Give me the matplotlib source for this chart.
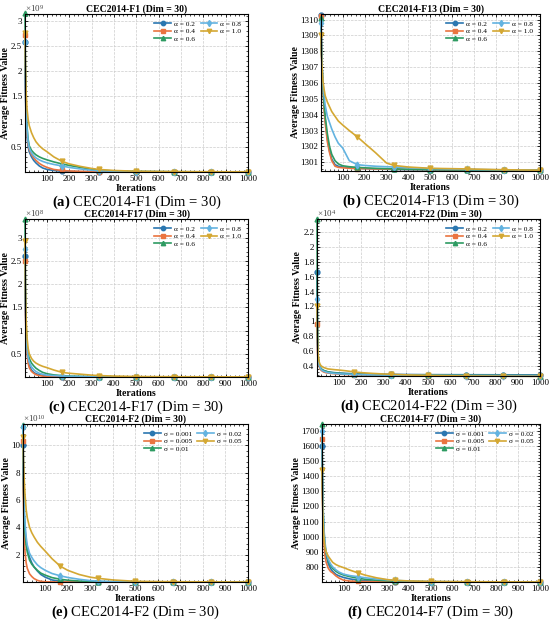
import matplotlib.pyplot as plt
from matplotlib.ticker import AutoMinorLocator

plt.rcParams['font.family'] = 'Liberation Serif'
plt.rcParams['mathtext.fontset'] = 'custom'
plt.rcParams['mathtext.rm'] = 'Liberation Serif'
plt.rcParams['mathtext.it'] = 'Liberation Serif:italic'
plt.rcParams['mathtext.bf'] = 'Liberation Serif:bold'

# iteration points
iters = [1, 3, 6, 10, 15, 20, 30, 40, 50, 65, 80, 100, 130, 167, 200, 250, 300, 334, 400, 500, 667, 834, 1000]
mark_idx = [0, 13, 17, 19, 20, 21, 22]

alpha_labels = ['α = 0.2', 'α = 0.4', 'α = 0.6', 'α = 0.8', 'α = 1.0']
sigma_labels = ['σ = 0.001', 'σ = 0.005', 'σ = 0.01', 'σ = 0.02', 'σ = 0.05']

colors = ['#2B77B0', '#EA7440', '#2E9B62', '#63B3E0', '#D4A833']
markers = ['o', 's', '^', 'd', 'v']

# (a) F1, x1e9
f1 = [
    [2.58, 1.6, 1.0, 0.7, 0.5, 0.4, 0.3, 0.23, 0.18, 0.12, 0.08, 0.05, 0.03, 0.015, 0.01, 0.006, 0.004, 0.003, 0.002, 0.001, 0.001, 0.001, 0.001],
    [2.72, 1.7, 1.1, 0.75, 0.55, 0.45, 0.35, 0.28, 0.23, 0.17, 0.13, 0.09, 0.05, 0.03, 0.02, 0.012, 0.008, 0.006, 0.004, 0.002, 0.001, 0.001, 0.001],
    [3.15, 2.0, 1.3, 0.9, 0.65, 0.52, 0.43, 0.38, 0.34, 0.30, 0.27, 0.24, 0.2, 0.16, 0.13, 0.09, 0.055, 0.035, 0.02, 0.01, 0.005, 0.003, 0.002],
    [2.58, 1.7, 1.15, 0.85, 0.6, 0.48, 0.38, 0.32, 0.28, 0.24, 0.21, 0.18, 0.15, 0.12, 0.09, 0.06, 0.035, 0.025, 0.015, 0.008, 0.004, 0.003, 0.002],
    [2.75, 2.1, 1.6, 1.25, 1.05, 0.92, 0.78, 0.68, 0.6, 0.52, 0.46, 0.4, 0.3, 0.21, 0.16, 0.11, 0.07, 0.05, 0.03, 0.015, 0.008, 0.005, 0.004],
]
# (b) F13
f13 = [
    [1310.3, 1308.5, 1307.0, 1305.8, 1304.6, 1303.7, 1302.5, 1301.7, 1301.2, 1300.85, 1300.75, 1300.7, 1300.65, 1300.62, 1300.6, 1300.58, 1300.56, 1300.55, 1300.53, 1300.52, 1300.5, 1300.5, 1300.49],
    [1310.2, 1308.2, 1306.8, 1305.5, 1304.3, 1303.5, 1302.3, 1301.6, 1301.1, 1300.75, 1300.68, 1300.65, 1300.62, 1300.6, 1300.6, 1300.58, 1300.57, 1300.56, 1300.55, 1300.54, 1300.53, 1300.52, 1300.52],
    [1310.1, 1308.4, 1307.0, 1305.8, 1304.7, 1303.9, 1302.8, 1302.0, 1301.5, 1301.1, 1300.9, 1300.78, 1300.72, 1300.68, 1300.65, 1300.62, 1300.6, 1300.58, 1300.56, 1300.54, 1300.52, 1300.5, 1300.5],
    [1309.8, 1308.2, 1307.0, 1306.0, 1305.2, 1304.6, 1303.9, 1303.5, 1303.1, 1302.6, 1302.2, 1301.9, 1301.1, 1300.85, 1300.8, 1300.75, 1300.72, 1300.7, 1300.66, 1300.6, 1300.55, 1300.52, 1300.5],
    [1309.0, 1307.8, 1306.9, 1306.1, 1305.6, 1305.2, 1304.8, 1304.5, 1304.2, 1303.9, 1303.6, 1303.35, 1303.0, 1302.6, 1302.2, 1301.6, 1300.95, 1300.8, 1300.7, 1300.62, 1300.58, 1300.53, 1300.5],
]
# (c) F17, x1e8
f17 = [
    [2.6, 1.5, 0.9, 0.55, 0.35, 0.25, 0.15, 0.1, 0.07, 0.05, 0.03, 0.02, 0.01, 0.006, 0.004, 0.003, 0.002, 0.002, 0.001, 0.001, 0.001, 0.001, 0.001],
    [2.5, 1.4, 0.85, 0.5, 0.3, 0.2, 0.12, 0.08, 0.05, 0.03, 0.02, 0.012, 0.008, 0.005, 0.004, 0.003, 0.002, 0.002, 0.001, 0.001, 0.001, 0.001, 0.001],
    [3.4, 1.9, 1.1, 0.7, 0.5, 0.4, 0.3, 0.24, 0.19, 0.14, 0.1, 0.07, 0.045, 0.03, 0.02, 0.014, 0.01, 0.008, 0.005, 0.003, 0.002, 0.001, 0.001],
    [2.75, 1.6, 1.0, 0.62, 0.42, 0.32, 0.22, 0.16, 0.12, 0.08, 0.06, 0.04, 0.03, 0.02, 0.015, 0.01, 0.008, 0.006, 0.004, 0.002, 0.001, 0.001, 0.001],
    [2.92, 1.9, 1.25, 0.85, 0.62, 0.5, 0.4, 0.34, 0.3, 0.26, 0.23, 0.2, 0.15, 0.1, 0.08, 0.06, 0.04, 0.03, 0.02, 0.01, 0.006, 0.004, 0.003],
]
# (d) F22, x1e4
f22 = [
    [1.66, 0.8, 0.5, 0.42, 0.38, 0.36, 0.34, 0.33, 0.32, 0.315, 0.31, 0.305, 0.3, 0.295, 0.292, 0.29, 0.288, 0.287, 0.285, 0.283, 0.282, 0.281, 0.28],
    [0.96, 0.6, 0.45, 0.4, 0.36, 0.34, 0.32, 0.31, 0.305, 0.3, 0.295, 0.29, 0.285, 0.282, 0.28, 0.278, 0.276, 0.275, 0.273, 0.271, 0.27, 0.269, 0.268],
    [2.375, 1.0, 0.55, 0.44, 0.39, 0.36, 0.34, 0.33, 0.32, 0.31, 0.305, 0.3, 0.295, 0.29, 0.287, 0.284, 0.281, 0.28, 0.278, 0.276, 0.274, 0.272, 0.27],
    [1.3, 0.7, 0.5, 0.42, 0.38, 0.35, 0.33, 0.32, 0.31, 0.305, 0.3, 0.295, 0.29, 0.286, 0.283, 0.28, 0.278, 0.277, 0.275, 0.273, 0.271, 0.27, 0.269],
    [1.2, 0.8, 0.55, 0.46, 0.42, 0.4, 0.38, 0.37, 0.36, 0.355, 0.35, 0.345, 0.335, 0.32, 0.31, 0.3, 0.292, 0.288, 0.28, 0.272, 0.265, 0.262, 0.26],
]
# (e) F2, x1e10
f2 = [
    [10.0, 7.0, 5.0, 3.8, 2.9, 2.4, 1.8, 1.4, 1.1, 0.8, 0.55, 0.35, 0.15, 0.05, 0.02, 0.01, 0.005, 0.003, 0.002, 0.001, 0.001, 0.001, 0.001],
    [10.3, 6.0, 3.5, 2.2, 1.4, 1.0, 0.6, 0.4, 0.25, 0.12, 0.05, 0.02, 0.008, 0.005, 0.003, 0.002, 0.001, 0.001, 0.001, 0.001, 0.001, 0.001, 0.001],
    [11.5, 7.5, 5.0, 3.6, 2.7, 2.2, 1.6, 1.3, 1.1, 0.85, 0.65, 0.5, 0.32, 0.2, 0.13, 0.07, 0.04, 0.03, 0.015, 0.008, 0.004, 0.002, 0.001],
    [11.3, 8.0, 5.8, 4.3, 3.3, 2.7, 2.1, 1.8, 1.55, 1.25, 1.05, 0.85, 0.62, 0.45, 0.33, 0.2, 0.1, 0.06, 0.03, 0.015, 0.008, 0.005, 0.003],
    [10.6, 9.0, 7.6, 6.4, 5.3, 4.7, 4.0, 3.6, 3.3, 2.9, 2.6, 2.25, 1.7, 1.15, 0.85, 0.55, 0.35, 0.27, 0.15, 0.05, 0.02, 0.01, 0.005],
]
# (f) F7
f7 = [
    [1600, 1350, 1150, 1000, 920, 870, 820, 790, 770, 750, 740, 730, 720, 712, 708, 705, 703, 702, 701, 700.5, 700, 700, 700],
    [1650, 1300, 1080, 950, 870, 830, 790, 770, 760, 740, 725, 712, 706, 704, 703, 702, 701, 700.5, 700, 700, 700, 700, 700],
    [1745, 1400, 1180, 1030, 940, 890, 840, 810, 790, 770, 757, 746, 735, 725, 718, 712, 708, 706, 703, 701, 700.5, 700, 700],
    [1700, 1400, 1200, 1050, 960, 900, 850, 820, 800, 780, 765, 752, 742, 735, 728, 720, 714, 711, 706, 703, 701, 700.5, 700],
    [1440, 1250, 1100, 990, 930, 900, 870, 850, 830, 815, 805, 795, 778, 760, 745, 728, 716, 711, 707, 704, 702, 701, 700.5],
]

panels = [
    # data, labels, title, caption tag, exponent, ylim, yticks, box (l, t, r, b) px
    (f1, alpha_labels, 'CEC2014-F1 (Dim = 30)', '(a)', 9, (0, 3.13), [0.5, 1, 1.5, 2, 2.5, 3], (25, 14, 248, 172)),
    (f13, alpha_labels, 'CEC2014-F13 (Dim = 30)', '(b)', None, (1300.45, 1310.35), list(range(1301, 1311)), (321, 14, 540, 171)),
    (f17, alpha_labels, 'CEC2014-F17 (Dim = 30)', '(c)', 8, (0, 3.4), [0.5, 1, 1.5, 2, 2.5, 3], (25, 219, 248, 377)),
    (f22, alpha_labels, 'CEC2014-F22 (Dim = 30)', '(d)', 4, (0.265, 2.375), [0.4, 0.6, 0.8, 1, 1.2, 1.4, 1.6, 1.8, 2, 2.2], (317, 219, 540, 376)),
    (f2, sigma_labels, 'CEC2014-F2 (Dim = 30)', '(e)', 10, (0, 11.55), [2, 4, 6, 8, 10], (23, 424, 248, 582)),
    (f7, sigma_labels, 'CEC2014-F7 (Dim = 30)', '(f)', None, (700, 1746), list(range(800, 1701, 100)), (322, 424, 540, 582)),
]

W, H = 550, 621
fig = plt.figure(figsize=(W / 100, H / 100), dpi=100)

for data, labels, title, tag, expo, ylim, yticks, box in panels:
    l, t, r, b = box
    ax = fig.add_axes([l / W, 1 - b / H, (r - l) / W, (b - t) / H])
    for series, lab, c, m in zip(data, labels, colors, markers):
        ax.plot(iters, series, color=c, lw=1.2, marker=m, markersize=3.5,
                markevery=mark_idx, label=lab, clip_on=False)
    ax.set_xlim(1, 1000)
    ax.set_ylim(*ylim)
    ax.set_xticks(range(100, 1001, 100))
    ax.set_yticks(yticks)
    ax.set_yticklabels([f'{v:g}' for v in yticks])
    ax.xaxis.set_minor_locator(AutoMinorLocator(5))
    ax.yaxis.set_minor_locator(AutoMinorLocator(5))
    ax.tick_params(which='both', direction='in', top=True, right=True, labelsize=6.5, pad=2)
    ax.tick_params(which='major', length=2.5, width=0.6)
    ax.tick_params(which='minor', length=1.2, width=0.5)
    ax.grid(True, ls='--', lw=0.5, color='#cccccc')
    for s in ax.spines.values():
        s.set_linewidth(0.8)
    ax.set_title(title, fontsize=7, fontweight='bold', pad=1.5)
    ax.set_xlabel('Iterations', fontsize=7, fontweight='bold', labelpad=1)
    ax.set_ylabel('Average Fitness Value', fontsize=7, fontweight='bold', labelpad=0.5)
    if expo is not None:
        ax.text(0.0, 1.0, r'$\times10^{%d}$' % expo, transform=ax.transAxes,
                fontsize=6.5, color='#444444', ha='left', va='bottom')
    ax.legend(loc='upper right', ncol=2, frameon=False, fontsize=5.3,
              handlelength=2.3, columnspacing=0.7, labelspacing=0.2,
              handletextpad=0.4, borderaxespad=0.5, markerscale=0.9)
    cx = (l + r) / 2 / W
    fig.text(cx, 1 - (b + 30) / H, r'$\mathbf{%s}$ %s' % (tag, title),
             fontsize=10.5, ha='center', va='center')

fig.savefig('out.png', dpi=100)
